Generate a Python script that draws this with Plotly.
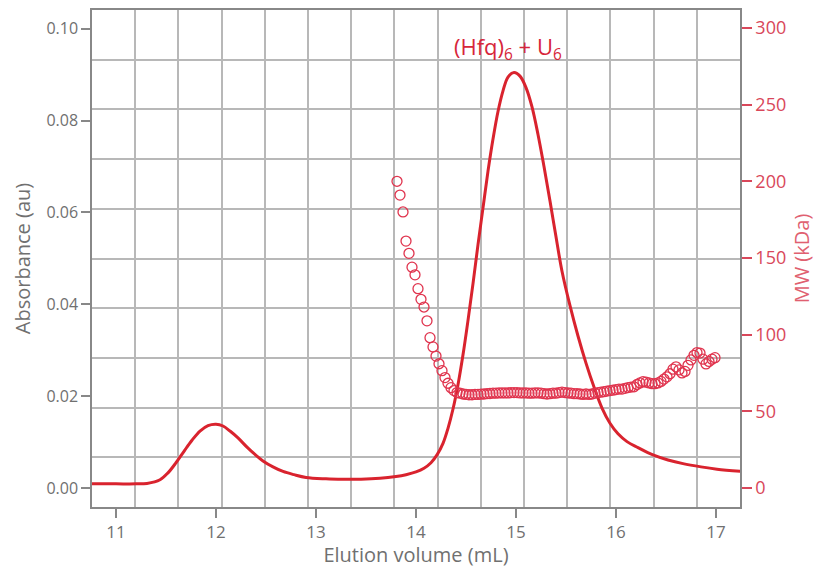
import plotly.graph_objects as go

# Absorbance trace (elution volume mL, absorbance au)
abs_x = [10.74, 11.0, 11.2, 11.31, 11.44, 11.52, 11.60, 11.68, 11.76, 11.84, 11.92, 12.0, 12.07,
         12.14, 12.22, 12.31, 12.39, 12.47, 12.57, 12.67, 12.78, 12.9, 13.1, 13.27, 13.45, 13.64,
         13.8, 13.9, 14.0, 14.08, 14.15, 14.21, 14.27, 14.32, 14.37, 14.42, 14.47, 14.52, 14.57,
         14.62, 14.67, 14.72, 14.77, 14.82, 14.87, 14.92, 14.98, 15.04, 15.10, 15.16, 15.22,
         15.28, 15.34, 15.40, 15.46, 15.54, 15.62, 15.70, 15.78, 15.86, 15.94, 16.02, 16.11,
         16.22, 16.37, 16.52, 16.67, 16.85, 17.01, 17.26]
abs_y = [0.0009, 0.0009, 0.0009, 0.0010, 0.0018, 0.0033, 0.0055, 0.0080, 0.0104, 0.0124, 0.0136,
         0.0139, 0.0135, 0.0124, 0.0109, 0.0089, 0.0073, 0.0059, 0.0046, 0.0036, 0.0029, 0.0023,
         0.0020, 0.0019, 0.0019, 0.0021, 0.0025, 0.0029, 0.0035, 0.0043, 0.0055, 0.0072, 0.0097,
         0.0130, 0.0172, 0.0225, 0.0290, 0.0365, 0.0445, 0.0530, 0.0610, 0.0690, 0.0760, 0.0820,
         0.0865, 0.0895, 0.0905, 0.0897, 0.0872, 0.0830, 0.0770, 0.0700, 0.0625, 0.0547, 0.0472,
         0.0397, 0.0331, 0.0272, 0.0220, 0.0174, 0.0141, 0.0118, 0.0101, 0.0088, 0.0072, 0.0061,
         0.0053, 0.0046, 0.0041, 0.0036]

# Molecular weight (kDa) points
mw_x = [13.81, 13.84, 13.87, 13.90, 13.93, 13.96, 13.99, 14.02, 14.05, 14.08, 14.11, 14.14, 14.17,
        14.20, 14.23, 14.26, 14.29, 14.32, 14.35, 14.38, 14.41, 14.44, 14.47, 14.50, 14.53, 14.56,
        14.59, 14.62, 14.65, 14.68, 14.71, 14.74, 14.77, 14.80, 14.83, 14.86, 14.89, 14.92, 14.95,
        14.98, 15.01, 15.04, 15.07, 15.10, 15.13, 15.16, 15.19, 15.22, 15.25, 15.28, 15.31, 15.34,
        15.37, 15.40, 15.43, 15.46, 15.49, 15.52, 15.55, 15.58, 15.61, 15.64, 15.67, 15.70, 15.73,
        15.76, 15.79, 15.82, 15.85, 15.88, 15.91, 15.94, 15.97, 16.00, 16.03, 16.06, 16.09, 16.12,
        16.15, 16.18, 16.21, 16.24, 16.27, 16.30, 16.33, 16.36, 16.39, 16.42, 16.45, 16.48, 16.51,
        16.54, 16.57, 16.60, 16.63, 16.66, 16.69, 16.72, 16.75, 16.78, 16.81, 16.84, 16.87, 16.90,
        16.93, 16.96, 16.99]
mw_y = [200, 191, 180, 161, 153, 144, 139, 130, 123, 118, 109, 98, 92,
        86, 81, 76.5, 72, 68.3, 65.4, 63.5, 62.2, 61.8, 61.3, 61.0, 60.8, 60.8,
        61.0, 61.0, 61.2, 61.3, 61.5, 61.6, 61.8, 61.8, 62.0, 62.0, 62.0, 62.0, 62.2,
        62.2, 62.2, 62.0, 62.0, 62.0, 61.8, 61.8, 62.0, 62.0, 61.8, 61.5, 61.3, 61.5,
        61.8, 61.8, 62.2, 62.5, 62.2, 62.0, 61.8, 61.5, 61.5, 61.3, 61.0, 61.3, 61.0,
        61.3, 61.8, 62.2, 62.5, 62.8, 63.2, 63.5, 63.8, 64.2, 64.5, 64.5, 65.0, 65.5,
        65.8, 66.0, 67.5, 68.5, 69.3, 69.0, 68.5, 68.0, 68.0, 68.5, 69.5, 71.0, 72.5,
        74.5, 77.5, 79.0, 77.0, 75.0, 76.0, 80.0, 83.5, 86.5, 88.3, 88.0, 84.0, 80.9,
        82.5, 84.0, 85.0]

x_ticks = [11, 12, 13, 14, 15, 16, 17]
abs_ticks = [0.00, 0.02, 0.04, 0.06, 0.08, 0.10]
mw_ticks = [0, 50, 100, 150, 200, 250, 300]

RED = "#d9232e"
MWRED = "#e0344e"
GRAY = "#707070"
FONT = "Open Sans"

fig = go.Figure()
# invisible trace to activate the graph-paper grid axes
fig.add_trace(go.Scatter(x=[0], y=[0], xaxis="x2", yaxis="y3", mode="markers",
                         marker=dict(opacity=0), hoverinfo="skip", showlegend=False))
fig.add_trace(go.Scatter(x=abs_x, y=abs_y, mode="lines",
                         line=dict(color=RED, width=3, shape="spline", smoothing=1.0),
                         xaxis="x", yaxis="y", showlegend=False))
fig.add_trace(go.Scatter(x=mw_x, y=mw_y, mode="markers",
                         marker=dict(symbol="circle-open", size=10, color=MWRED, line=dict(width=1.3, color=MWRED)),
                         xaxis="x", yaxis="y2", showlegend=False))

fig.update_layout(
    width=824, height=568,
    margin=dict(l=92, r=84, t=10, b=61),
    paper_bgcolor="white", plot_bgcolor="white",
    font=dict(family=FONT, color=GRAY),
    xaxis=dict(range=[10.76, 17.24], tickvals=x_ticks, ticks="outside", ticklen=9, tickwidth=1.5,
               tickcolor="#888", showline=True, linecolor="#888", linewidth=1.5, mirror=True,
               showgrid=False, zeroline=False, tickfont=dict(size=17, color=GRAY), automargin=False,
               title=dict(text="Elution volume (mL)", font=dict(size=20, color=GRAY), standoff=6)),
    yaxis=dict(range=[-0.00414, 0.1041], tickvals=abs_ticks, tickformat=".2f", ticks="outside",
               ticklen=9, tickwidth=1.5, tickcolor="#888", showline=True, linecolor="#888",
               linewidth=1.5, mirror=True, showgrid=False, zeroline=False, automargin=False,
               tickfont=dict(size=16, color=GRAY),
               title=dict(text="Absorbance (au)", font=dict(size=20, color=GRAY), standoff=10)),
    yaxis2=dict(range=[-12.4, 311.7], tickvals=mw_ticks, overlaying="y", side="right", ticks="outside",
                ticklen=10, tickwidth=1.5, tickcolor="#d9475a", showline=True, linecolor="#888",
                linewidth=1.5, showgrid=False, zeroline=False, automargin=False,
                tickfont=dict(size=18, color="#d9475a"),
                title=dict(text="MW (kDa)", font=dict(size=20, color="#e06070"), standoff=10)),
    xaxis2=dict(range=[0, 15], dtick=1, overlaying="x", showgrid=True, gridcolor="#b8b8b8", gridwidth=1.5,
                showticklabels=False, ticks="", showline=False, zeroline=False),
    yaxis3=dict(range=[0, 10], dtick=1, overlaying="y", showgrid=True, gridcolor="#b8b8b8", gridwidth=1.5,
                showticklabels=False, ticks="", showline=False, zeroline=False),
)

fig.add_annotation(x=14.92, y=0.0959, xref="x", yref="y", text="(Hfq)<sub>6</sub> + U<sub>6</sub>",
                   showarrow=False, font=dict(size=22, color="#d7263a", family=FONT))

fig.write_html("out.html")
